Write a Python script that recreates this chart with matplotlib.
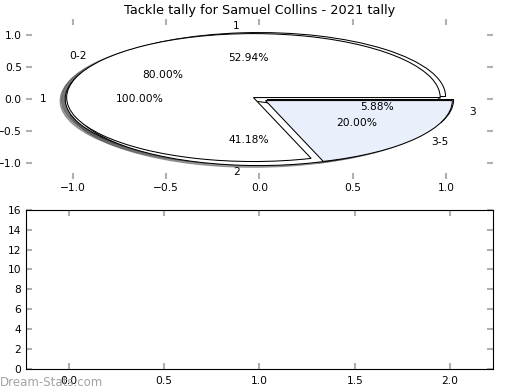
import matplotlib
matplotlib.use('Agg')
import matplotlib.pyplot as plt

tally_labels = ['1', '2', '3']
tally_counts = [9, 7, 1]
range_labels = ['0-2', '3-5']
range_counts = [4, 1]
single_labels = ['1']
single_counts = [1]

plt.rcParams['font.size'] = 7.7
plt.rcParams['xtick.direction'] = 'in'
plt.rcParams['ytick.direction'] = 'in'
plt.rcParams['xtick.top'] = True
plt.rcParams['ytick.right'] = True
plt.rcParams['xtick.color'] = '#b0b0b0'
plt.rcParams['ytick.color'] = '#b0b0b0'
plt.rcParams['xtick.labelcolor'] = 'black'
plt.rcParams['ytick.labelcolor'] = 'black'

fig = plt.figure(figsize=(5.2, 3.9), dpi=100)
ax1 = fig.add_axes([0.05, 0.541, 0.898, 0.41])
ax2 = fig.add_axes([0.05, 0.054, 0.898, 0.408])

edge = dict(edgecolor='black', linewidth=0.75)

ax1.pie(single_counts, labels=single_labels, autopct='%1.2f%%',
        explode=[0.04], colors=['white'], wedgeprops=edge, shadow=True)
ax1.pie(tally_counts, labels=tally_labels, autopct='%1.2f%%',
        explode=[0.04, 0.04, 0.04], colors=['white'] * 3,
        wedgeprops=edge, shadow=True)
ax1.pie(range_counts, labels=range_labels, autopct='%1.2f%%',
        explode=[0.04, 0.04], colors=['white', '#e9effb'],
        wedgeprops=edge, shadow=True)

ax1.set_aspect('auto')
ax1.set_frame_on(False)
ax1.set_xlim(-1.25, 1.25)
ax1.set_ylim(-1.25, 1.25)
ax1.set_xticks([-1.0, -0.5, 0.0, 0.5, 1.0])
ax1.set_yticks([-1.0, -0.5, 0.0, 0.5, 1.0])
ax1.tick_params(length=4, width=1.5, pad=3)
ax1.set_title('Tackle tally for Samuel Collins - 2021 tally', fontsize=9.3, pad=3.5)

ax2.set_xlim(-0.225, 2.225)
ax2.set_ylim(0, 16)
ax2.set_xticks([0.0, 0.5, 1.0, 1.5, 2.0])
ax2.set_yticks(range(0, 17, 2))
ax2.tick_params(length=4, width=1.5, pad=3.5)
ax2.tick_params(axis='x', pad=5)

fig.text(0.0, 0.010, 'Dream-Stats.com', fontsize=8.5, color='#999999', alpha=0.9)

fig.savefig('out.png', dpi=100)
